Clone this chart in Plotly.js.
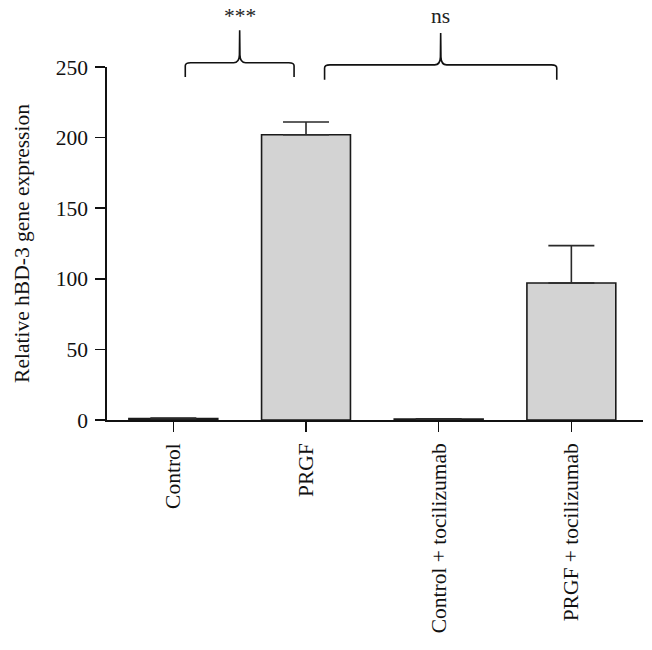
<!DOCTYPE html>
<html>
<head>
<meta charset="utf-8">
<script src="https://cdn.plot.ly/plotly-3.0.1.min.js"></script>
<style>html,body{margin:0;padding:0;background:#fff;}#chart{width:652px;height:650px;}</style>
</head>
<body>
<div id="chart"></div>
<script>
// Data
var categories = ["Control", "PRGF", "Control + tocilizumab", "PRGF + tocilizumab"];
var means = [1.0, 202, 0.6, 97];
var errUpper = [0.3, 9, 0.2, 26.5];
var yTickVals = [0, 50, 100, 150, 200, 250];
var yRange = [0, 250];

// Significance brackets (category-index units for ends, data units for heights)
var bracketStart = [0.09, 1.14];
var bracketEnd = [0.91, 2.89];
var bracketLevel = [253, 251.5];
var bracketFoot = [243, 241];
var bracketPeak = [276, 274];
var bracketLabels = ["***", "ns"];
var labelLevel = [286, 286];

var FONT = "Liberation Serif, Times New Roman, serif";
var FS = 21.5;

function toPaper(v) { return (v - yRange[0]) / (yRange[1] - yRange[0]); }

var trace = {
  type: "bar",
  x: categories,
  y: means,
  width: 0.67,
  marker: {color: "#d3d3d3", line: {color: "#1a1a1a", width: 1.6}},
  error_y: {type: "data", array: errUpper, arrayminus: means.map(function(){return 0;}), symmetric: false,
            color: "#2a2a2a", thickness: 1.6, width: 23},
  hoverinfo: "none"
};

// brace path builder
var dxc = 0.04, dyc = 2.2, dxm = 0.045, dym = 5.5;
function P(x, v) { return x + "," + toPaper(v); }
function brace(i) {
  var x0 = bracketStart[i], x1 = bracketEnd[i], xm = (x0 + x1) / 2;
  var yh = bracketLevel[i], yb = bracketFoot[i], yp = bracketPeak[i];
  return "M" + P(x0, yb) +
    " L" + P(x0, yh - dyc) +
    " Q" + P(x0, yh) + " " + P(x0 + dxc, yh) +
    " L" + P(xm - dxm, yh) +
    " Q" + P(xm - 0.004, yh) + " " + P(xm - 0.002, yh + dym) +
    " L" + P(xm, yp) +
    " L" + P(xm + 0.002, yh + dym) +
    " Q" + P(xm + 0.004, yh) + " " + P(xm + dxm, yh) +
    " L" + P(x1 - dxc, yh) +
    " Q" + P(x1, yh) + " " + P(x1, yh - dyc) +
    " L" + P(x1, yb);
}
var shapes = [], annotations = [];
for (var i = 0; i < bracketLabels.length; i++) {
  shapes.push({type: "path", xref: "x", yref: "paper", path: brace(i), line: {color: "#111", width: 1.6}, layer: "above"});
  annotations.push({xref: "x", yref: "paper", x: (bracketStart[i] + bracketEnd[i]) / 2, y: toPaper(labelLevel[i]),
    text: bracketLabels[i], showarrow: false, font: {family: FONT, size: FS, color: "#222"}, yanchor: "middle"});
}

var layout = {
  width: 652, height: 650,
  margin: {l: 107, r: 9, t: 67, b: 230},
  paper_bgcolor: "#fff", plot_bgcolor: "#fff",
  showlegend: false,
  font: {family: FONT, size: FS, color: "#111"},
  xaxis: {
    type: "category",
    range: [-0.5, 3.54],
    showline: true, linecolor: "#111", linewidth: 1.6,
    ticks: "outside", ticklen: 10, tickwidth: 1.6, tickcolor: "#111",
    tickangle: -90, tickfont: {family: FONT, size: FS, color: "#111"},
    ticklabelstandoff: 3,
    showgrid: false, zeroline: false, fixedrange: true
  },
  yaxis: {
    range: yRange,
    tickvals: yTickVals,
    showline: true, linecolor: "#111", linewidth: 1.6,
    ticks: "outside", ticklen: 10, tickwidth: 1.6, tickcolor: "#111",
    tickfont: {family: FONT, size: FS, color: "#111"},
    ticklabelstandoff: 3,
    showgrid: false, zeroline: false, fixedrange: true,
    title: {text: "Relative hBD-3 gene expression", font: {family: FONT, size: FS, color: "#111"}, standoff: 20}
  },
  shapes: shapes,
  annotations: annotations
};

Plotly.newPlot("chart", [trace], layout, {staticPlot: true, displayModeBar: false});
</script>
</body>
</html>
